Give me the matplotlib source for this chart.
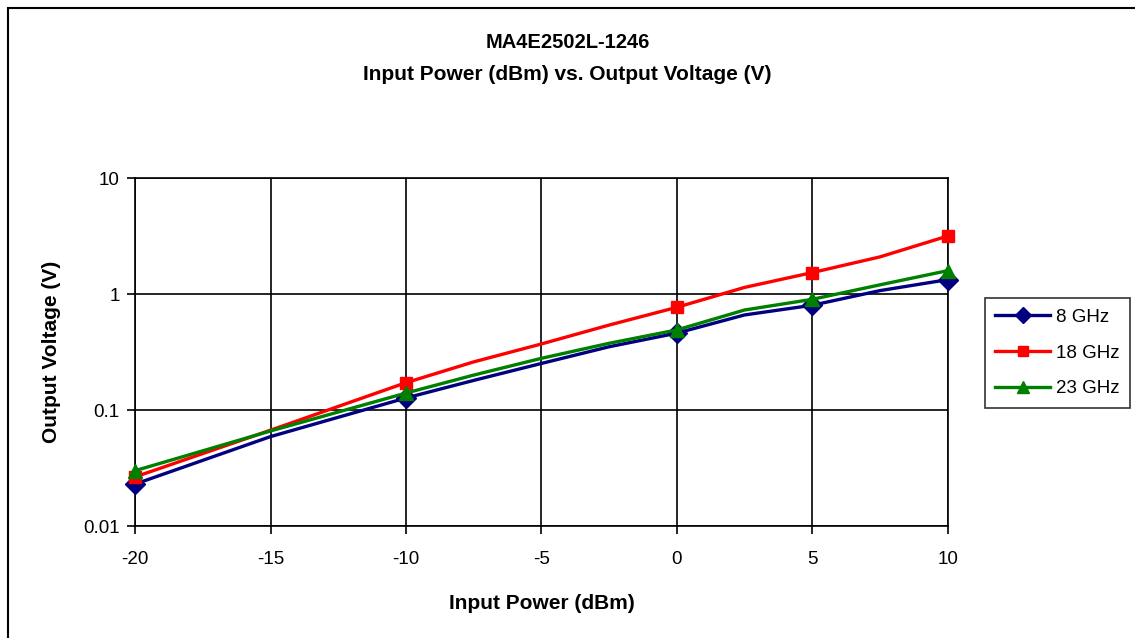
import numpy as np
import matplotlib
matplotlib.use("Agg")
from matplotlib import pyplot as plt
from matplotlib.patches import Rectangle

plt.rcParams['font.family'] = ['Liberation Sans', 'DejaVu Sans']
plt.rcParams['axes.unicode_minus'] = False

# data
input_power = [-20, -15, -10, -7.5, -5, -2.5, 0, 2.5, 5, 7.5, 10]
marker_idx = [0, 2, 6, 8, 10]
v_8ghz = [0.023, 0.059, 0.127, 0.18, 0.252, 0.351, 0.46, 0.66, 0.80, 1.07, 1.33]
v_18ghz = [0.0265, 0.067, 0.172, 0.26, 0.371, 0.54, 0.768, 1.14, 1.53, 2.09, 3.16]
v_23ghz = [0.030, 0.066, 0.140, 0.20, 0.279, 0.376, 0.49, 0.728, 0.90, 1.2, 1.59]

series = [
    (v_8ghz, "8 GHz", "#000080", "D", 10),
    (v_18ghz, "18 GHz", "#ff0000", "s", 8.5),
    (v_23ghz, "23 GHz", "#008000", "^", 10),
]

fig = plt.figure(figsize=(11.35, 6.38), dpi=100)
ax = fig.add_axes([0.119, 0.1755, 0.716, 0.5455])

for vals, label, color, marker, ms in series:
    ax.plot(input_power, vals, color=color, lw=2.4, marker=marker, ms=ms,
            markevery=marker_idx, label=label, clip_on=False, zorder=3)

ax.set_yscale('log')
ax.set_xlim(-20, 10)
ax.set_ylim(0.01, 10)
ax.set_xticks([-20, -15, -10, -5, 0, 5, 10])
ax.set_yticks([0.01, 0.1, 1, 10])
ax.set_yticklabels(["0.01", "0.1", "1", "10"])
ax.yaxis.set_minor_locator(matplotlib.ticker.NullLocator())
ax.tick_params(axis='both', labelsize=13.5, direction='out', length=6, width=1.2)
ax.tick_params(axis='x', pad=12)
ax.tick_params(axis='y', pad=5)
ax.grid(True, color='black', lw=1.2)
for s in ax.spines.values():
    s.set_linewidth(1.2)

ax.set_xlabel("Input Power (dBm)", fontsize=15, fontweight='bold', labelpad=19)
ax.set_ylabel("Output Voltage (V)", fontsize=15, fontweight='bold', labelpad=16)

fig.text(0.5, 1 - 42 / 638, "MA4E2502L-1246", ha='center', va='center',
         fontsize=14.5, fontweight='bold')
fig.text(0.5, 1 - 74 / 638, "Input Power (dBm) vs. Output Voltage (V)", ha='center',
         va='center', fontsize=15, fontweight='bold')

leg = ax.legend(loc='center left', fontsize=13.5, frameon=True, fancybox=False,
                edgecolor='black', handlelength=2.9, handletextpad=0.35,
                borderpad=0.55, labelspacing=1.0, markerscale=0.8, borderaxespad=0)
leg.get_frame().set_linewidth(1.2)
leg.set_bbox_to_anchor((985 / 1135, 1 - 353 / 638), transform=fig.transFigure)

fig.patches.append(Rectangle((8 / 1135, -0.01), 1.02, 1 - 8 / 638 + 0.01, transform=fig.transFigure,
                             fill=False, edgecolor='black', lw=1.5))

fig.savefig("out.png", dpi=100)
